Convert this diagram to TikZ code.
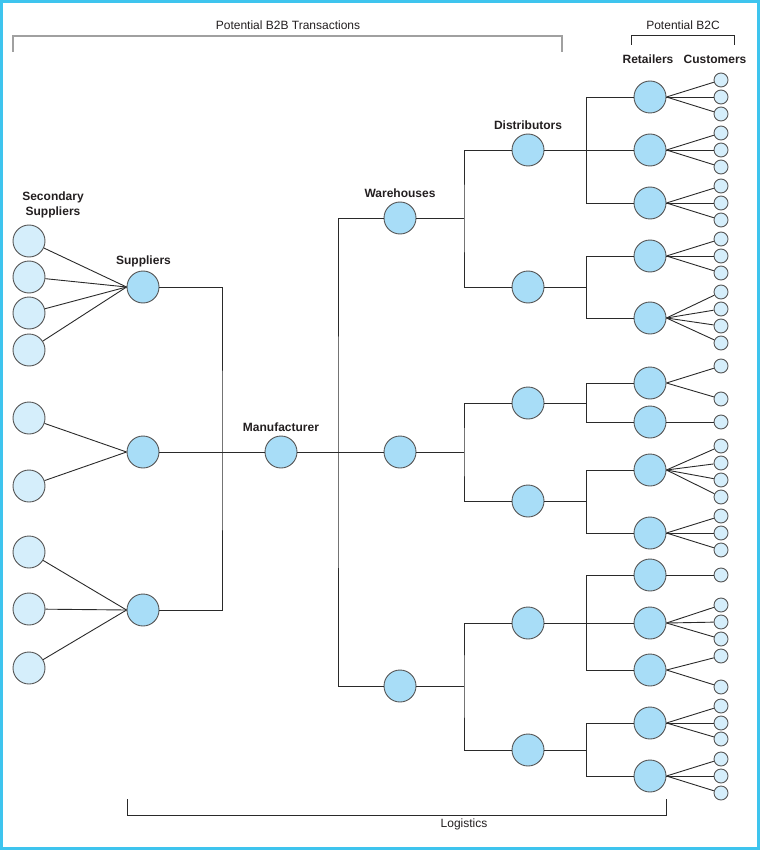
\documentclass[tikz,border=0pt]{standalone}
\usepackage{fontspec}
\setmainfont{Liberation Sans}
\definecolor{framec}{HTML}{3EC4EE}
\definecolor{bigfill}{HTML}{A8DDF7}
\definecolor{smallfill}{HTML}{D5EEFB}
\definecolor{edgec}{HTML}{555555}
\definecolor{linec}{HTML}{2A2A2A}
\definecolor{txtc}{HTML}{231F20}
\definecolor{brgray}{HTML}{A0A0A0}
\begin{document}
\begin{tikzpicture}[x=1pt,y=-1pt,
  big/.style={circle,draw=edgec,fill=bigfill,line width=0.9pt,minimum size=32pt,inner sep=0pt},
  sec/.style={circle,draw=edgec,fill=smallfill,line width=0.9pt,minimum size=32pt,inner sep=0pt},
  cust/.style={circle,draw=edgec,fill=smallfill,line width=0.9pt,minimum size=14pt,inner sep=0pt},
  conn/.style={draw=linec,line width=0.9pt},
  lab/.style={font=\fontsize{12}{15}\selectfont\bfseries,text=txtc,inner sep=0pt,align=center},
  plab/.style={font=\fontsize{12}{14}\selectfont,text=txtc,inner sep=0pt}]
\useasboundingbox (0,0) rectangle (760,850);
\draw[framec,line width=3pt] (1.5,1.5) rectangle (758.5,848.5);

% brackets
\node[plab] (tb2b) at (288,25) {Potential B2B Transactions};
\coordinate (b2bL) at (13,52);
\coordinate (b2bR) at (562,52);
\draw[brgray,line width=1.1pt] (b2bL) -- (13,36) -- (562,36) -- (b2bR);
\node[plab] (tb2c) at (683,25) {Potential B2C};
\coordinate (b2cL) at (631,45);
\coordinate (b2cR) at (734,45);
\draw[linec,line width=1pt] (b2cL) -- (631,36) -- (734,36) -- (b2cR);
\node[plab] (tlog) at (464,824) {Logistics};
\coordinate (logL) at (127,799);
\coordinate (logR) at (666,799);
\draw[linec,line width=1pt] (logL) -- (127,815) -- (666,815) -- (logR);

% labels
\node[lab] (lsec) at (53,204.5) {Secondary\\Suppliers};
\node[lab] (lsup) at (143.5,261) {Suppliers};
\node[lab] (lman) at (281,427) {Manufacturer};
\node[lab] (lwar) at (400,193) {Warehouses};
\node[lab] (ldis) at (528,125) {Distributors};
\node[lab] (lret) at (648,59) {Retailers};
\node[lab] (lcus) at (715,59) {Customers};

% suppliers and secondary suppliers
\node[big] (s1) at (143,287) {};
\node[big] (s2) at (143,452) {};
\node[big] (s3) at (143,610) {};
\foreach \i/\y in {1/241,2/277,3/313,4/350} {
  \node[sec] (ss1-\i) at (29,\y) {};
  \draw[conn] (ss1-\i) -- (s1.west);
}
\foreach \i/\y in {1/418,2/486} {
  \node[sec] (ss2-\i) at (29,\y) {};
  \draw[conn] (ss2-\i) -- (s2.west);
}
\foreach \i/\y in {1/552,2/609,3/668} {
  \node[sec] (ss3-\i) at (29,\y) {};
  \draw[conn] (ss3-\i) -- (s3.west);
}

% manufacturer
\node[big] (m) at (281,452) {};
\coordinate (bs) at (222,452);
\draw[conn] (s1.east) -| (bs) |- (s3.east);
\draw[conn] (s2.east) -- (m.west);

% warehouses
\node[big] (w1) at (400,218) {};
\node[big] (w2) at (400,452) {};
\node[big] (w3) at (400,686) {};
\coordinate (bm) at (338,452);
\draw[conn] (w1.west) -| (bm) |- (w3.west);
\draw[conn] (m.east) -- (w2.west);

% distributors
\node[big] (d1) at (528,150) {};
\node[big] (d2) at (528,287) {};
\node[big] (d3) at (528,403) {};
\node[big] (d4) at (528,501) {};
\node[big] (d5) at (528,623) {};
\node[big] (d6) at (528,750) {};
\coordinate (bw1) at (464,218);
\coordinate (bw2) at (464,452);
\coordinate (bw3) at (464,686);
\draw[conn] (w1.east) -- (bw1);
\draw[conn] (d1.west) -| (bw1) |- (d2.west);
\draw[conn] (w2.east) -- (bw2);
\draw[conn] (d3.west) -| (bw2) |- (d4.west);
\draw[conn] (w3.east) -- (bw3);
\draw[conn] (d5.west) -| (bw3) |- (d6.west);

% retailers and customers
\foreach \r/\y/\cs in {1/97/{80,97,114},2/150/{133,150,167},3/203/{186,203,220},
  4/256/{239,256,273},5/318/{292,309,326,343},6/383/{366,399},7/422/{422},
  8/470/{446,463,480,497},9/533/{516,533,550},10/575/{575},11/623/{605,622,639},
  12/670/{656,687},13/723/{706,723,739},14/776/{759,776,793}} {
  \node[big] (r\r) at (650,\y) {};
  \foreach \c [count=\k] in \cs {
    \node[cust] (c\r-\k) at (721,\c) {};
    \draw[conn] (r\r.east) -- (c\r-\k);
  }
}

% distributor to retailer buses
\coordinate (bd1) at (586,150);
\coordinate (bd2) at (586,287);
\coordinate (bd3) at (586,403);
\coordinate (bd4) at (586,501);
\coordinate (bd5) at (586,623);
\coordinate (bd6) at (586,750);
\draw[conn] (d1.east) -- (r2.west);
\draw[conn] (r1.west) -| (bd1) |- (r3.west);
\draw[conn] (d2.east) -- (bd2);
\draw[conn] (r4.west) -| (bd2) |- (r5.west);
\draw[conn] (d3.east) -- (bd3);
\draw[conn] (r6.west) -| (bd3) |- (r7.west);
\draw[conn] (d4.east) -- (bd4);
\draw[conn] (r8.west) -| (bd4) |- (r9.west);
\draw[conn] (d5.east) -- (r11.west);
\draw[conn] (r10.west) -| (bd5) |- (r12.west);
\draw[conn] (d6.east) -- (bd6);
\draw[conn] (r13.west) -| (bd6) |- (r14.west);
\end{tikzpicture}
\end{document}
